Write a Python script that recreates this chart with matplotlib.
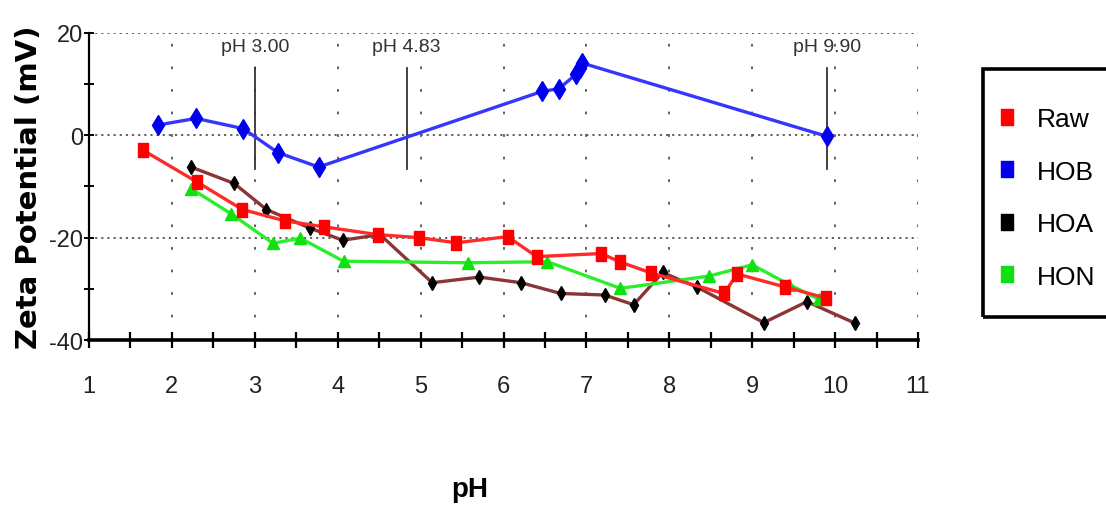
import matplotlib
matplotlib.use("Agg")
import matplotlib.pyplot as plt
from matplotlib.lines import Line2D
from matplotlib.patches import Rectangle

plt.rcParams["axes.unicode_minus"] = False

# zeta potential vs pH for the four samples
raw_ph = [1.65, 2.30, 2.85, 3.36, 3.84, 4.48, 4.98, 5.43, 6.05, 6.40, 7.18, 7.40, 7.78, 8.66, 8.82, 9.39, 9.89]
raw_zeta = [-2.9, -9.1, -14.5, -16.7, -17.9, -19.4, -20.0, -21.0, -19.8, -23.7, -23.1, -24.7, -26.9, -30.9, -27.1, -29.6, -31.8]

hob_ph = [1.83, 2.29, 2.86, 3.28, 3.77, 6.47, 6.67, 6.88, 6.92, 6.95, 9.90]
hob_zeta = [2.0, 3.3, 1.3, -3.4, -6.2, 8.6, 9.1, 12.0, 13.2, 14.1, -0.2]

hoa_ph = [2.23, 2.75, 3.14, 3.66, 4.06, 4.51, 5.14, 5.71, 6.21, 6.69, 7.22, 7.57, 7.92, 8.34, 9.14, 9.66, 10.24]
hoa_zeta = [-6.2, -9.4, -14.5, -18.1, -20.5, -19.4, -28.8, -27.7, -28.8, -30.9, -31.2, -33.1, -26.8, -29.7, -36.6, -32.5, -36.7]

hon_ph = [2.23, 2.71, 3.22, 3.55, 4.07, 5.57, 6.53, 7.41, 8.48, 9.00, 9.45, 9.80]
hon_zeta = [-10.4, -15.3, -21.1, -20.1, -24.6, -24.9, -24.7, -29.9, -27.5, -25.3, -29.2, -32.0]

# isoelectric points marked on the chart
iep_ph = [3.00, 4.83, 9.90]
iep_labels = ["pH 3.00", "pH 4.83", "pH 9.90"]

names = ["Raw", "HOB", "HOA", "HON"]
line_colors = ["#ff2a2a", "#3535ff", "#8b3535", "#2bef2b"]
marker_colors = ["#ff0000", "#0000ee", "#000000", "#10e010"]

sans = ["Liberation Sans", "DejaVu Sans"]
tall_box = [(-0.35, -0.5), (0.35, -0.5), (0.35, 0.5), (-0.35, 0.5), (-0.35, -0.5)]

fig = plt.figure(figsize=(11.06, 5.06), dpi=100)
ax = fig.add_axes([0.0805, 0.326, 0.7495, 0.607])

ax.plot(raw_ph, raw_zeta, color=line_colors[0], lw=2.4, marker=tall_box,
        ms=9.5, mfc=marker_colors[0], mec=marker_colors[0], zorder=4)
ax.plot(hob_ph, hob_zeta, color=line_colors[1], lw=2.4, marker="d",
        ms=10.5, mfc=marker_colors[1], mec=marker_colors[1], zorder=4)
ax.plot(hoa_ph, hoa_zeta, color=line_colors[2], lw=2.4, marker="d",
        ms=7, mfc=marker_colors[2], mec=marker_colors[2], zorder=3)
ax.plot(hon_ph, hon_zeta, color=line_colors[3], lw=2.4, marker="^",
        ms=8, mfc=marker_colors[3], mec=marker_colors[3], zorder=3)

for x, lab in zip(iep_ph, iep_labels):
    ax.plot([x, x], [-6.6, 13.2], color="#333333", lw=1.3, zorder=2)
    ax.text(x, 17.3, lab, ha="center", va="center", fontsize=14,
            color="#333333", family=sans)

ax.set_xlim(1, 11)
ax.set_ylim(-40, 20)

# dotted grid
for y in [20, 0, -20]:
    ax.axhline(y, color="#555555", lw=1.3, ls=(0, (1.2, 2.2)), zorder=1)
for x in range(2, 12):
    ax.axvline(x, color="#555555", lw=1.3, ls=(0, (1.5, 11)), zorder=1)

for side in ["top", "right"]:
    ax.spines[side].set_visible(False)
ax.spines["left"].set_linewidth(1.6)
ax.spines["bottom"].set_linewidth(2.6)

ax.set_xticks(range(1, 12))
ax.set_xticks([i + 0.5 for i in range(1, 11)], minor=True)
ax.set_yticks([-40, -20, 0, 20])
ax.set_yticks([-30, -10, 10], minor=True)
ax.tick_params(axis="x", which="both", direction="inout", length=11, width=1.6,
               pad=20, labelsize=17, labelcolor="#222222")
ax.tick_params(axis="y", which="both", direction="inout", length=7, width=1.4,
               pad=1, labelsize=17, labelcolor="#222222")
for lab in ax.get_xticklabels() + ax.get_yticklabels():
    lab.set_family(sans)

ax.set_ylabel("Zeta Potential (mV)", fontsize=21, fontweight="bold",
              family="DejaVu Sans", labelpad=4)
fig.text(0.425, 0.032, "pH", ha="center", va="center", fontsize=20,
         fontweight="bold", family=sans)

# legend box runs off the right edge
fig.patches.append(Rectangle((983 / 1106, 1 - 318 / 506), 0.2, 248 / 506,
                             transform=fig.transFigure, fill=False,
                             ec="black", lw=2.6))
handles = [Line2D([], [], ls="none", marker=tall_box, ms=12, color=c)
           for c in marker_colors]
fig.legend(handles, names, loc="upper left",
           bbox_to_anchor=(987 / 1106, 1 - 95 / 506), frameon=False,
           prop={"family": sans, "size": 19}, handlelength=0.5,
           handletextpad=0.9, labelspacing=1.08, borderpad=0)

fig.savefig("out.png", dpi=100)
